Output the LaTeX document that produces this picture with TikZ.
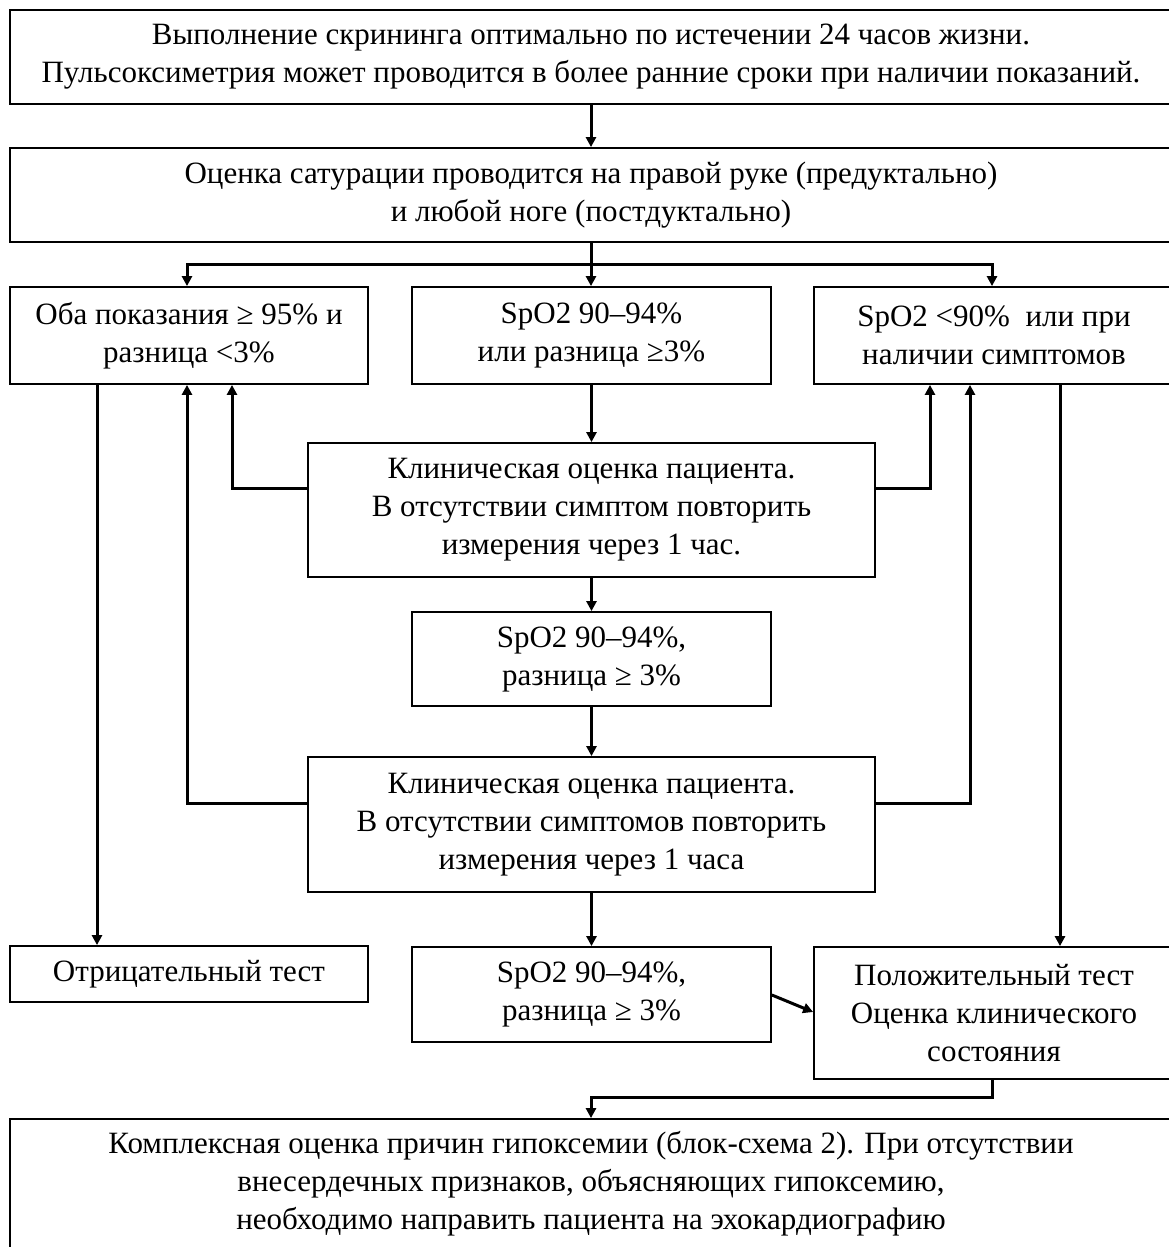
\documentclass[tikz,border=0pt]{standalone}
\usepackage{fontspec}
\setmainfont{Liberation Serif}
\usetikzlibrary{arrows.meta,calc}
\begin{document}
\begin{tikzpicture}[x=1pt,y=-1pt,
  box/.style={draw, line width=1.8pt, align=center, inner sep=0pt,
    font=\fontsize{31}{38}\selectfont},
  conn/.style={line width=3pt},
  arr/.style={line width=3pt, -{Triangle[length=10pt,width=10pt]}}]
\useasboundingbox (0,0) rectangle (1169,1247);
\clip (0,0) rectangle (1169,1247);
\fill[white] (0,0) rectangle (1169,1247);
% boxes
\node[box, minimum width=1162pt, minimum height=94pt] (b1) at (591,57)
  {Выполнение скрининга оптимально по истечении 24 часов жизни.\\
   Пульсоксиметрия может проводится в более ранние сроки при наличии показаний.};
\node[box, minimum width=1162pt, minimum height=94pt] (b2) at (591,195)
  {Оценка сатурации проводится на правой руке (предуктально)\\
   и любой ноге (постдуктально)};
\node[box, minimum width=358pt, minimum height=97pt] (b3a) at (189,335.5)
  {Оба показания ≥ 95\% и\\ разница <3\%};
\node[box, minimum width=359pt, minimum height=97pt] (b3b) at (591.5,335.5)
  {SpO2 90–94\%\\ или разница ≥3\%};
\node[box, minimum width=360pt, minimum height=97pt] (b3c) at (994,335.5)
  {SpO2 <90\%\ \ или при\\ наличии симптомов};
\node[box, minimum width=567pt, minimum height=134pt] (b4) at (591.5,510)
  {Клиническая оценка пациента.\\ В отсутствии симптом повторить\\ измерения через 1 час.};
\node[box, minimum width=359pt, minimum height=94pt] (b5) at (591.5,659)
  {SpO2 90–94\%,\\ разница ≥ 3\%};
\node[box, minimum width=567pt, minimum height=135pt] (b6) at (591.5,824.5)
  {Клиническая оценка пациента.\\ В отсутствии симптомов повторить\\ измерения через 1 часа};
\node[box, minimum width=358pt, minimum height=56pt] (b7) at (189,974)
  {Отрицательный тест};
\node[box, minimum width=359pt, minimum height=95pt] (b8) at (591.5,994.5)
  {SpO2 90–94\%,\\ разница ≥ 3\%};
\node[box, minimum width=360pt, minimum height=132pt] (b9) at (994,1013)
  {Положительный тест\\ Оценка клинического\\ состояния};
\node[box, minimum width=1162pt, minimum height=130pt] (b10) at (591,1184)
  {Комплексная оценка причин гипоксемии (блок-схема 2). При отсутствии\\
   внесердечных признаков, объясняющих гипоксемию,\\
   необходимо направить пациента на эхокардиографию};
% connectors
\draw[arr] (b1.south) -- (b2.north);
\coordinate (fork) at ($(b2.south)+(0,22)$);
\draw[conn] (b2.south) -- (fork);
\draw[arr] (fork) -| ($(b3a.north)+(-2,0)$);
\draw[arr] (fork) -- (fork |- b3b.north);
\draw[arr] (fork) -| ($(b3c.north)+(-2,0)$);
\draw[arr] (b3b.south) -- (b4.north);
\draw[arr] ($(b4.west)+(0,-22)$) -| ($(b3a.south)+(43,0)$);
\draw[arr] ($(b4.east)+(0,-22)$) -| ($(b3c.south)+(-64,0)$);
\draw[arr] (b4.south) -- (b5.north);
\draw[arr] (b5.south) -- (b6.north);
\draw[arr] ($(b6.west)+(0,-21)$) -| ($(b3a.south)+(-2,0)$);
\draw[arr] ($(b6.east)+(0,-21)$) -| ($(b3c.south)+(-24,0)$);
\draw[arr] ($(b3a.south)+(-92,0)$) -- ($(b7.north)+(-92,0)$);
\draw[arr] ($(b3c.south)+(66,0)$) -- ($(b9.north)+(66,0)$);
\draw[arr] (b6.south) -- (b8.north);
\draw[arr] ($(b8.east)+(0,0.5)$) -- ($(b9.west)+(0,-1)$);
\draw[arr] ($(b9.south)+(-2,0)$) -- ($(b9.south)+(-2,18)$) -| (b10.north);
\end{tikzpicture}
\end{document}
